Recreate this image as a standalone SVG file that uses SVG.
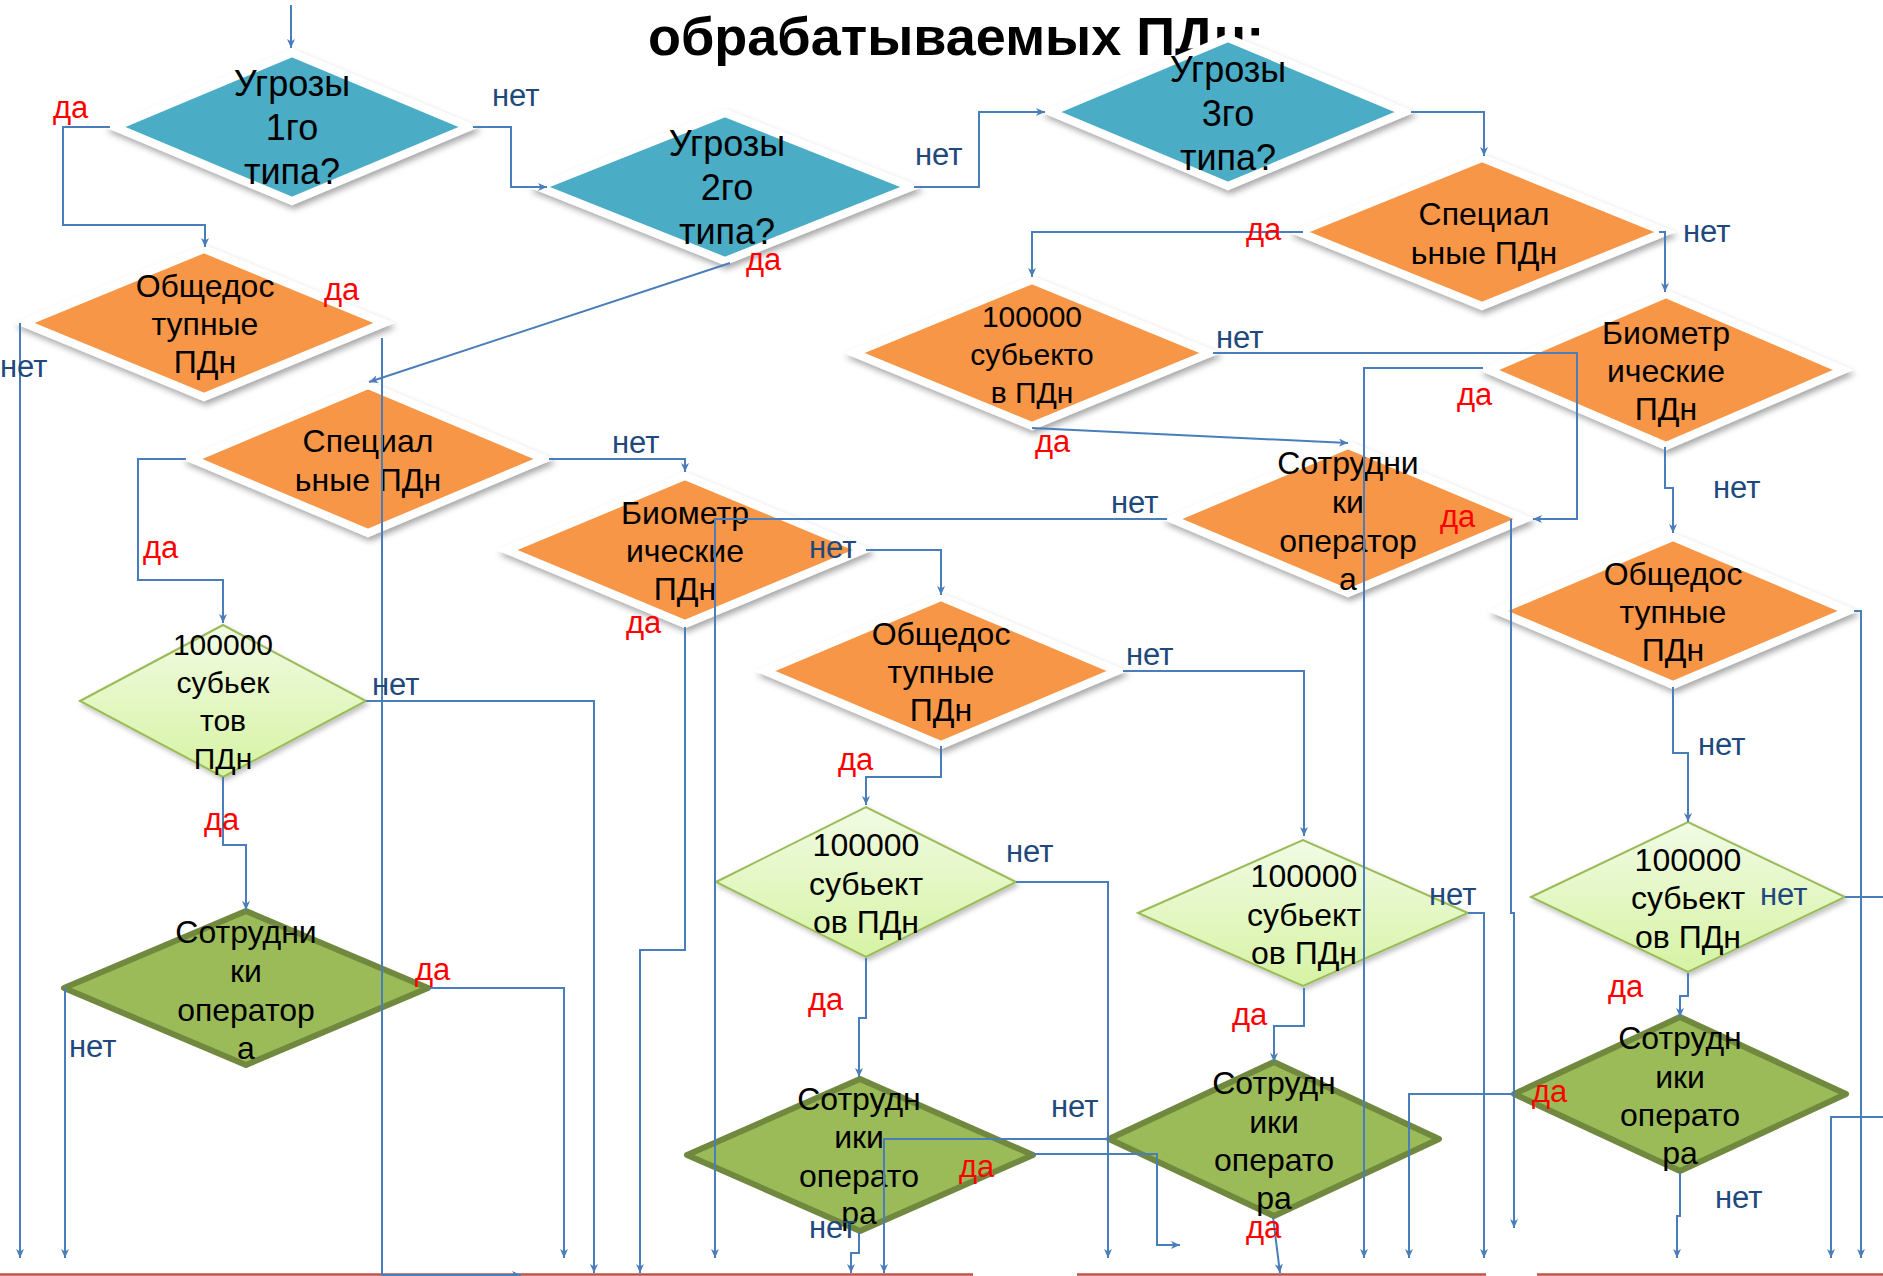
<svg xmlns="http://www.w3.org/2000/svg" width="1883" height="1276" viewBox="0 0 1883 1276">
<defs>
<style>
text{font-family:"Liberation Sans",Arial,sans-serif;}
.t36{font-size:36px;fill:#000;text-anchor:middle;}
.t32{font-size:32px;fill:#000;text-anchor:middle;}
.t30{font-size:30px;fill:#000;text-anchor:middle;}
.or{fill:#F79646;stroke:#FFFFFF;stroke-width:8;stroke-linejoin:miter;filter:url(#sh);}
.tl{fill:#4BACC6;stroke:#FFFFFF;stroke-width:8;stroke-linejoin:miter;filter:url(#sh);}
.lg{fill:url(#lgg);stroke:#9BBB59;stroke-width:2;filter:url(#sh2);}
.dg{fill:#9BBB59;stroke:#71893F;stroke-width:6;stroke-linejoin:round;}
.c{fill:none;stroke:#4A7EBB;stroke-width:2;}
.ca{fill:none;stroke:#4A7EBB;stroke-width:2;marker-end:url(#ah);}
.da{font-size:31px;fill:#FF0000;}
.net{font-size:31px;fill:#1F497D;}
.red{stroke:#C0504D;stroke-width:2.5;fill:none;}
</style>
<marker id="ah" viewBox="0 0 9 8" refX="9" refY="4" markerWidth="9" markerHeight="8" markerUnits="userSpaceOnUse" orient="auto">
<path d="M0,0 L9,4 L0,8 L2.5,4 z" fill="#4A7EBB"/>
</marker>
<linearGradient id="lgg" x1="0" y1="0" x2="0" y2="1">
<stop offset="0" stop-color="#F1FBE4"/>
<stop offset="1" stop-color="#D6F3A3"/>
</linearGradient>
<filter id="sh" x="-10%" y="-10%" width="125%" height="135%">
<feDropShadow dx="2" dy="4" stdDeviation="3" flood-color="#000" flood-opacity="0.35"/>
</filter>
<filter id="sh2" x="-10%" y="-10%" width="125%" height="135%">
<feDropShadow dx="2" dy="3" stdDeviation="2.5" flood-color="#000" flood-opacity="0.25"/>
</filter>
</defs>
<rect width="1883" height="1276" fill="#FFFFFF"/>
<text id="title" x="648" y="55" style="font-size:54px;font-weight:bold;fill:#000">обрабатываемых ПДн:</text>
<g id="bottom-lines">
<line class="red" x1="0" y1="1274.5" x2="973" y2="1274.5"/>
<line class="red" x1="1077" y1="1274.5" x2="1486" y2="1274.5"/>
<line class="red" x1="1537" y1="1274.5" x2="1883" y2="1274.5"/>
</g>
<g id="n1"><polygon class="tl" points="115,127 292,53 469,127 292,201"/><text class="t36"><tspan x="292" y="96">Угрозы</tspan><tspan x="292" y="140">1го</tspan><tspan x="292" y="184">типа?</tspan></text></g>
<g id="n2"><polygon class="tl" points="539,187 725,113 911,187 725,261"/><text class="t36"><tspan x="727" y="156">Угрозы</tspan><tspan x="727" y="200">2го</tspan><tspan x="727" y="244">типа?</tspan></text></g>
<g id="n3"><polygon class="tl" points="1051,112 1228,38 1405,112 1228,186"/><text class="t36"><tspan x="1228" y="82">Угрозы</tspan><tspan x="1228" y="126">3го</tspan><tspan x="1228" y="170">типа?</tspan></text></g>
<g id="n4"><polygon class="or" points="1299,232 1482,158 1665,232 1482,306"/><text class="t32"><tspan x="1484" y="225">Специал</tspan><tspan x="1484" y="264">ьные ПДн</tspan></text></g>
<g id="n5"><polygon class="or" points="854,353 1032,280 1210,353 1032,426"/><text class="t30"><tspan x="1032" y="327">100000</tspan><tspan x="1032" y="365">субьекто</tspan><tspan x="1032" y="403">в ПДн</tspan></text></g>
<g id="n6"><polygon class="or" points="1489,370 1666,294 1843,370 1666,446"/><text class="t32"><tspan x="1666" y="344">Биометр</tspan><tspan x="1666" y="382">ические</tspan><tspan x="1666" y="420">ПДн</tspan></text></g>
<g id="n7"><polygon class="or" points="24,323 204,249 384,323 204,397"/><text class="t32"><tspan x="205" y="297">Общедос</tspan><tspan x="205" y="335">тупные</tspan><tspan x="205" y="373">ПДн</tspan></text></g>
<g id="n8"><polygon class="or" points="192,459 368,385 544,459 368,533"/><text class="t32"><tspan x="368" y="452">Специал</tspan><tspan x="368" y="491">ьные ПДн</tspan></text></g>
<g id="n9"><polygon class="or" points="507,550 685,476 863,550 685,624"/><text class="t32"><tspan x="685" y="524">Биометр</tspan><tspan x="685" y="562">ические</tspan><tspan x="685" y="600">ПДн</tspan></text></g>
<g id="n10"><polygon class="or" points="1172,519 1348,445 1524,519 1348,593"/><text class="t32"><tspan x="1348" y="474">Сотрудни</tspan><tspan x="1348" y="513">ки</tspan><tspan x="1348" y="552">оператор</tspan><tspan x="1348" y="590">а</tspan></text></g>
<g id="n11"><polygon class="or" points="765,671 941,597 1117,671 941,745"/><text class="t32"><tspan x="941" y="645">Общедос</tspan><tspan x="941" y="683">тупные</tspan><tspan x="941" y="721">ПДн</tspan></text></g>
<g id="n12"><polygon class="or" points="1498,611 1673,537 1848,611 1673,685"/><text class="t32"><tspan x="1673" y="585">Общедос</tspan><tspan x="1673" y="623">тупные</tspan><tspan x="1673" y="661">ПДн</tspan></text></g>
<g id="g1"><polygon class="lg" points="80,701 223,625 366,701 223,777"/><text class="t30"><tspan x="223" y="655">100000</tspan><tspan x="223" y="693">субьек</tspan><tspan x="223" y="731">тов</tspan><tspan x="223" y="769">ПДн</tspan></text></g>
<g id="g2"><polygon class="lg" points="716,882 866,807 1016,882 866,957"/><text class="t32"><tspan x="866" y="856">100000</tspan><tspan x="866" y="895">субьект</tspan><tspan x="866" y="933">ов ПДн</tspan></text></g>
<g id="g3"><polygon class="lg" points="1138,913 1303,840 1468,913 1303,986"/><text class="t32"><tspan x="1304" y="887">100000</tspan><tspan x="1304" y="926">субьект</tspan><tspan x="1304" y="964">ов ПДн</tspan></text></g>
<g id="g4"><polygon class="lg" points="1531,897 1688,822 1845,897 1688,972"/><text class="t32"><tspan x="1688" y="871">100000</tspan><tspan x="1688" y="909">субьект</tspan><tspan x="1688" y="948">ов ПДн</tspan></text></g>
<g id="dg1"><polygon class="dg" points="64,988 246,911 428,988 246,1065"/><text class="t32"><tspan x="246" y="943">Сотрудни</tspan><tspan x="246" y="982">ки</tspan><tspan x="246" y="1021">оператор</tspan><tspan x="246" y="1059">а</tspan></text></g>
<g id="dg2"><polygon class="dg" points="687,1155 860,1079 1033,1155 860,1231"/><text class="t32"><tspan x="859" y="1110">Сотрудн</tspan><tspan x="859" y="1148">ики</tspan><tspan x="859" y="1187">операто</tspan><tspan x="859" y="1224">ра</tspan></text></g>
<g id="dg3"><polygon class="dg" points="1109,1139 1274,1062 1439,1139 1274,1216"/><text class="t32"><tspan x="1274" y="1094">Сотрудн</tspan><tspan x="1274" y="1133">ики</tspan><tspan x="1274" y="1171">операто</tspan><tspan x="1274" y="1209">ра</tspan></text></g>
<g id="dg4"><polygon class="dg" points="1514,1094 1680,1017 1846,1094 1680,1171"/><text class="t32"><tspan x="1680" y="1049">Сотрудн</tspan><tspan x="1680" y="1088">ики</tspan><tspan x="1680" y="1126">операто</tspan><tspan x="1680" y="1164">ра</tspan></text></g>
<g id="connectors">
<path class="ca" d="M291,5 V48"/>
<path class="ca" d="M110,127 H63 V225 H205 V247"/>
<path class="ca" d="M473,127 H511 V187 H547"/>
<path class="ca" d="M914,187 H979 V112 H1045"/>
<path class="ca" d="M730,263 L369,382"/>
<path class="ca" d="M1411,112 H1484 V156"/>
<path class="ca" d="M1303,232 H1032 V277"/>
<path class="ca" d="M1659,232 H1665 V292"/>
<path class="ca" d="M1213,353 H1577 V519 H1533"/>
<path class="ca" d="M1032,428 L1348,443"/>
<path class="ca" d="M1483,368 H1364 V1258"/>
<path class="ca" d="M1665,447 V488 H1673 V533"/>
<path class="ca" d="M1673,687 V753 H1688 V822"/>
<path class="ca" d="M1854,611 H1861 V1258"/>
<path class="ca" d="M1167,519 H715 V1258"/>
<path class="ca" d="M1511,519 V913 H1514 V1228"/>
<path class="ca" d="M866,550 H941 V595"/>
<path class="ca" d="M685,627 V950 H640 V1273"/>
<path class="ca" d="M186,459 H138 V580 H223 V623"/>
<path class="ca" d="M549,459 H685 V472"/>
<path class="ca" d="M20,323 V1258"/>
<path class="ca" d="M382,338 V1275 H521"/>
<path class="ca" d="M366,701 H594 V1273"/>
<path class="ca" d="M223,777 V845 H246 V910"/>
<path class="ca" d="M65,988 V1258"/>
<path class="ca" d="M429,988 H564 V1258"/>
<path class="ca" d="M866,958 V1018 H859 V1077"/>
<path class="ca" d="M1016,882 H1108 V1258"/>
<path class="ca" d="M941,746 V777 H866 V805"/>
<path class="ca" d="M1123,671 H1304 V836"/>
<path class="ca" d="M1468,913 H1484 V1258"/>
<path class="ca" d="M1304,988 V1026 H1274 V1062"/>
<path class="c" d="M1845,897 H1883"/>
<path class="ca" d="M1688,973 V996 H1680 V1017"/>
<path class="ca" d="M1680,1173 V1216 H1677 V1258"/>
<path class="ca" d="M1514,1094 H1409 V1258"/>
<path class="ca" d="M1883,1117 H1831 V1258"/>
<path class="ca" d="M1110,1139 H884 V1273"/>
<path class="ca" d="M1033,1154 H1157 V1245 H1180"/>
<path class="ca" d="M859,1232 V1253 H851 V1273"/>
<path class="ca" d="M1273,1217 L1280,1273"/>
</g>
<g id="labels">
<text class="da" x="53" y="118">да</text>
<text class="net" x="492" y="106">нет</text>
<text class="net" x="915" y="165">нет</text>
<text class="da" x="746" y="270">да</text>
<text class="da" x="1246" y="240">да</text>
<text class="net" x="1683" y="242">нет</text>
<text class="net" x="1216" y="348">нет</text>
<text class="da" x="1035" y="452">да</text>
<text class="da" x="1457" y="405">да</text>
<text class="net" x="1713" y="498">нет</text>
<text class="net" x="1698" y="755">нет</text>
<text class="net" x="1111" y="513">нет</text>
<text class="da" x="1440" y="527">да</text>
<text class="net" x="809" y="558">нет</text>
<text class="da" x="626" y="633">да</text>
<text class="da" x="143" y="558">да</text>
<text class="net" x="612" y="453">нет</text>
<text class="net" x="0" y="377">нет</text>
<text class="da" x="324" y="300">да</text>
<text class="net" x="372" y="695">нет</text>
<text class="da" x="204" y="830">да</text>
<text class="net" x="69" y="1057">нет</text>
<text class="da" x="415" y="980">да</text>
<text class="da" x="808" y="1010">да</text>
<text class="net" x="1006" y="862">нет</text>
<text class="da" x="838" y="770">да</text>
<text class="net" x="1126" y="665">нет</text>
<text class="net" x="1429" y="905">нет</text>
<text class="da" x="1232" y="1025">да</text>
<text class="net" x="1760" y="905">нет</text>
<text class="da" x="1608" y="997">да</text>
<text class="net" x="1715" y="1208">нет</text>
<text class="da" x="1532" y="1102">да</text>
<text class="net" x="1051" y="1117">нет</text>
<text class="da" x="959" y="1177">да</text>
<text class="net" x="809" y="1238">нет</text>
<text class="da" x="1246" y="1238">да</text>
</g>
</svg>
